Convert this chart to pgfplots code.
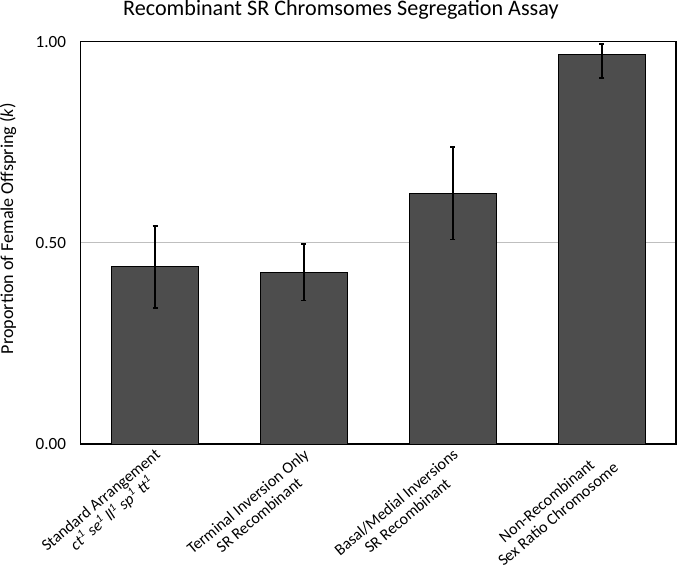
\documentclass[border=0pt]{standalone}
\usepackage{pgfplots}
\pgfplotsset{compat=1.18}
\usepackage{fontspec}
\setmainfont{Carlito}
\definecolor{barfill}{RGB}{77,77,77}
\definecolor{gridgray}{RGB}{191,191,191}
\begin{document}
\begin{tikzpicture}
\begin{axis}[
  scale only axis,
  width=592pt, height=400pt,
  xmin=-0.5, xmax=3.5,
  ymin=0, ymax=1,
  axis line style={line width=1.5pt, black},
  ytick={0,0.5,1},
  ymajorgrids=true,
  grid style={line width=1.2pt, gridgray},
  major tick length=0pt,
  yticklabel style={font=\fontsize{17}{20}\selectfont, xshift=-11pt},
  /pgf/number format/assume math mode=true,
  /pgf/number format/.cd, fixed, fixed zerofill, precision=2, /pgfplots/.cd,
  xtick={0,1,2,3},
  xticklabels={
    {Standard Arrangement\\\textit{ct\textsuperscript{1} se\textsuperscript{1} ll\textsuperscript{1} sp\textsuperscript{1} tt\textsuperscript{1}}},
    {Terminal Inversion Only\\SR Recombinant},
    {Basal/Medial Inversions\\SR Recombinant},
    {Non-Recombinant\\Sex Ratio Chromosome}},
  xticklabel style={font=\fontsize{16}{17.5}\selectfont, rotate=40, anchor=north east, align=center, xshift=-2pt, yshift=-1pt, inner sep=1pt},
  ylabel={Proportion of Female Offspring (\textit{k})},
  ylabel style={font=\fontsize{18}{21}\selectfont, at={(axis description cs:-0.1216,0.535)}, anchor=center, inner sep=0pt},
  title={Recombinant SR Chromsomes Segregation Assay},
  title style={font=\fontsize{22}{26}\selectfont, at={(axis description cs:0.437,1)}, anchor=base, yshift=20pt, inner sep=0pt},
]
\addplot[ybar, bar width=0.58, fill=barfill, draw=black, line width=0.9pt,
  error bars/.cd, y dir=both, y explicit,
  error bar style={line width=1.6pt, black},
  error mark=-,
  error mark options={rotate=90, line width=1.6pt, mark size=2.5pt, black}]
coordinates {
  (0,0.440) +- (0,0.102)
  (1,0.427) +- (0,0.070)
  (2,0.623) +- (0,0.115)
  (3,0.969) += (0,0.025) -= (0,0.059)
};
\end{axis}
\end{tikzpicture}
\end{document}
